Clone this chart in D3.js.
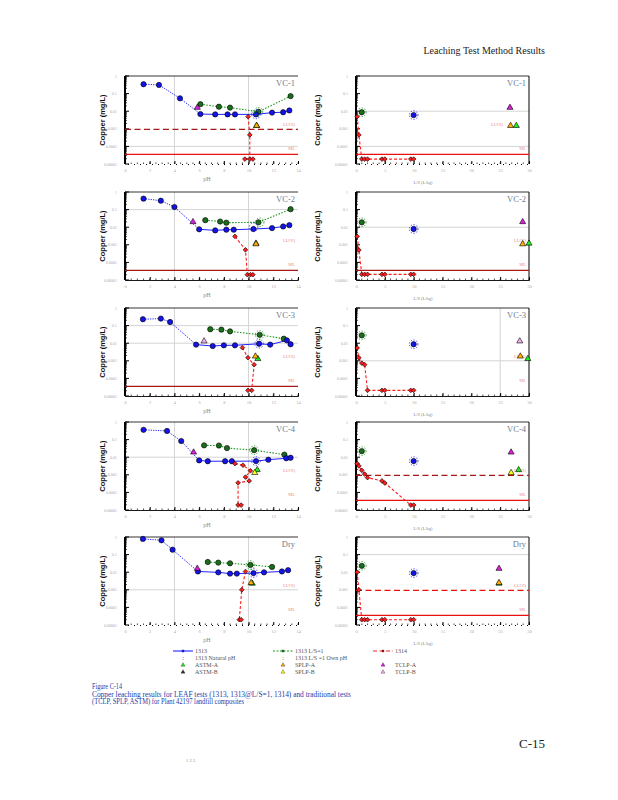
<!DOCTYPE html>
<html>
<head>
<meta charset="utf-8">
<script src="https://cdn.jsdelivr.net/npm/d3@7"></script>
<style>
  body { margin: 0; background: #fff; }
  svg { font-family: "Liberation Serif", "Times New Roman", serif; }
</style>
</head>
<body>
<div id="view"></div>
<script>
'use strict';

const samples = ['VC-1', 'VC-2', 'VC-3', 'VC-4', 'Dry'];

// 1313 (pH dependence)
const pH1313 = [
  [1.5, 2.75, 4.45, 6.1, 7.3, 8.3, 8.9, 10.6, 11.9, 12.8, 13.3],
  [1.5, 2.9, 4.0, 6.0, 7.3, 8.2, 8.8, 10.4, 11.9, 12.8, 13.3],
  [1.45, 2.9, 3.65, 5.75, 7.1, 8.0, 8.9, 10.85, 11.75, 13.1, 13.4],
  [1.5, 3.4, 4.55, 6.0, 6.7, 8.1, 8.65, 10.6, 11.6, 13.05, 13.4],
  [1.45, 2.95, 3.85, 5.9, 7.55, 8.5, 9.05, 10.4, 11.25, 12.7, 13.2]
];
const cu1313 = [
  [0.34, 0.31, 0.054, 0.0069, 0.0066, 0.0066, 0.0066, 0.0066, 0.0083, 0.0087, 0.011],
  [0.42, 0.32, 0.14, 0.0076, 0.0066, 0.0072, 0.0072, 0.0079, 0.0089, 0.011, 0.013],
  [0.23, 0.25, 0.16, 0.0083, 0.0069, 0.0076, 0.0076, 0.0093, 0.0083, 0.0145, 0.0087],
  [0.36, 0.31, 0.083, 0.0066, 0.0059, 0.0059, 0.0059, 0.006, 0.0072, 0.0087, 0.0093],
  [0.78, 0.65, 0.19, 0.011, 0.0098, 0.0083, 0.0083, 0.0089, 0.0098, 0.011, 0.013]
];
const pHNatural = [10.6, 10.4, 10.85, 10.6, 10.4];
const cuNatural = [0.0066, 0.01, 0.0093, 0.006, 0.0089];

// 1313 at L/S=1
const pHLS1 = [
  [6.1, 7.6, 8.5, 10.8, 13.4],
  [6.5, 7.7, 8.2, 10.8, 13.4],
  [6.9, 7.8, 8.5, 10.9, 12.85],
  [6.4, 7.6, 8.25, 10.45, 12.9],
  [6.7, 7.55, 8.5, 10.15, 11.9]
];
const cuLS1 = [
  [0.025, 0.018, 0.016, 0.0093, 0.072],
  [0.025, 0.021, 0.018, 0.019, 0.105],
  [0.062, 0.059, 0.047, 0.03, 0.018],
  [0.047, 0.046, 0.033, 0.025, 0.014],
  [0.038, 0.035, 0.032, 0.026, 0.02]
];
const pHOwn = [10.8, 10.9, 10.9, 10.45, 10.15];
const cuOwn = [0.0093, 0.019, 0.03, 0.025, 0.026];

// 1314 eluates against pH
const pH1314 = [
  [9.96, 10.1, 10.1, 9.7, 10.35],
  [8.9, 9.75, 9.9, 10.15, 10.35],
  [9.5, 9.95, 10.45, 10.25, 9.95],
  [8.9, 9.55, 10.15, 9.75, 10.05, 9.15, 9.15, 9.4],
  [9.75, 9.45, 9.25, 9.4]
];
const cu1314pH = [
  [0.0049, 0.00045, 0.000019, 0.000019, 0.000019],
  [0.003, 0.00052, 0.00002, 0.00002, 0.00002],
  [0.0056, 0.0015, 0.0006, 0.000021, 0.000021],
  [0.0043, 0.0035, 0.0017, 0.00074, 0.00045, 0.00035, 0.000019, 0.000019],
  [0.011, 0.001, 0.00002, 0.00002]
];

// 1314 against cumulative L/S
const ls1314 = [0.2, 0.5, 1, 1.5, 2, 4.5, 5, 9.5, 10];
const cu1314LS = [
  [0.0049, 0.00045, 0.000019, 0.000019, 0.000019, 0.000019, 0.000019, 0.000019, 0.000019],
  [0.003, 0.0005, 0.000021, 0.000021, 0.000021, 0.000021, 0.000021, 0.000021, 0.000021],
  [0.0054, 0.0015, 0.00074, 0.0006, 0.000021, 0.000021, 0.000021, 0.000021, 0.000021],
  [0.0043, 0.0032, 0.0018, 0.0011, 0.00069, 0.00045, 0.00034, 0.000019, 0.000019],
  [0.01, 0.001, 0.00002, 0.00002, 0.00002, 0.00002, 0.00002, 0.00002, 0.00002]
];
const cuAtLS1 = [0.0087, 0.019, 0.028, 0.022, 0.023];
const cuAtLS10 = [0.006, 0.0079, 0.0087, 0.006, 0.0089];

// traditional tests
const tclpKind = ['A', 'A', 'B', 'A', 'A'];
const tclpPH = [5.85, 5.5, 6.4, 5.55, 5.85];
const tclpLS = [26.7, 28.9, 28.4, 26.9, 24.8];
const tclpCu = [0.016, 0.02, 0.013, 0.019, 0.016];
const splpKind = ['A', 'A', 'A', 'B', 'A'];
const splpPH = [10.65, 10.6, 10.55, 10.5, 10.2];
const splpLS = [26.8, 28.9, 28.5, 26.9, 24.8];
const splpCu = [0.0015, 0.0011, 0.0018, 0.0013, 0.0025];
const astmPH = [10.65, 10.6, 10.75, 10.7, 10.3];
const astmLS = [27.8, 30, 29.8, 28.2, 24.8];
const astmCu = [0.0015, 0.0012, 0.0013, 0.0019, 0.0023];

const lloq = 0.00093;
const ml = 0.000035;

const yTickVals = [1, 0.1, 0.01, 0.001, 0.0001, 0.00001];
const pHTicks = [0, 2, 4, 6, 8, 10, 12, 14];
const lsTicks = [0, 5, 10, 15, 20, 25, 30];

const layout = {
  rowTop: [76, 192, 308, 422, 537],
  plotH: 88,
  left: [125, 298],
  right: [356, 529]
};

const col = {
  blue: '#1414e8', blueLine: '#2222ff',
  green: '#1a6e1a', greenLine: '#1a961a',
  red: '#ff1e1e',
  tclpA: '#e01ee0', tclpB: '#f4b0f4',
  splpA: '#ffb000', splpB: '#ffff10',
  astmA: '#22ee22', astmB: '#333333',
  lloqDark: '#a81818', mlRed: '#e81010', mlDark: '#a81818',
  grid: '#d4d4d4', tick: '#aaaaaa', guideText: '#e89090', tag: '#6d7d90'
};

// per panel guides (style only)
const panelStyle = [
  { L: { gridY: [1e-4], gridX: [4, 10], lloq: col.lloqDark, ml: col.mlRed, dotted: true },
    R: { gridY: [1e-2, 1e-4], gridX: [], ml: col.mlRed, dotted: true, lloqLabelX: 503 } },
  { L: { gridY: [0.1], gridX: [4, 10], ml: col.mlDark },
    R: { gridY: [0.01], gridX: [], ml: col.mlDark } },
  { L: { gridY: [0.1, 0.01], gridX: [4, 10], ml: col.mlDark },
    R: { gridY: [0.001], gridX: [25] } },
  { L: { gridY: [0.01], gridX: [4, 10] },
    R: { gridY: [], gridX: [], lloq: col.lloqDark, ml: col.mlRed } },
  { L: { gridY: [0.001], gridX: [4, 10], dotted: true },
    R: { gridY: [0.1], gridX: [], lloq: col.mlRed, ml: col.mlRed, dotted: true } }
];

const svg = d3.select('#view').append('svg')
  .attr('width', 618)
  .attr('height', 800);

const sym = (type, size) => d3.symbol().type(type).size(size)();

function yFmt(v) {
  return v >= 1 ? '1' : String(+v.toFixed(6));
}

function drawFrame(g, x, y, st, isLeft, xTicks, xTitle) {
  const [x0, x1] = x.range();
  const [yb, yt] = y.range();

  st.gridY.forEach(v => {
    g.append('line').attr('x1', x0).attr('x2', x1).attr('y1', y(v)).attr('y2', y(v))
      .attr('stroke', col.grid).attr('stroke-width', 1);
  });
  st.gridX.forEach(v => {
    g.append('line').attr('x1', x(v)).attr('x2', x(v)).attr('y1', yt).attr('y2', yb)
      .attr('stroke', col.grid).attr('stroke-width', 1);
  });

  // top / right borders
  g.append('line').attr('x1', x0).attr('x2', x1).attr('y1', yt).attr('y2', yt)
    .attr('stroke', '#000').attr('stroke-width', 0.8);
  if (!isLeft) {
    g.append('line').attr('x1', x1).attr('x2', x1).attr('y1', yt).attr('y2', yb)
      .attr('stroke', '#000').attr('stroke-width', 1);
  }

  // bottom axis
  const xAxis = g.append('g')
    .attr('transform', `translate(0,${yb})`)
    .call(d3.axisBottom(x).tickValues(xTicks).tickSize(-3).tickPadding(5).tickFormat(d3.format('d')));
  xAxis.select('.domain').attr('stroke', '#000').attr('stroke-width', st.dotted ? 1.2 : 0.9)
    .attr('stroke-dasharray', st.dotted ? '1,5' : null);
  xAxis.selectAll('.tick line').attr('stroke', '#000');
  xAxis.selectAll('.tick text').attr('fill', col.tick).attr('font-size', 4.5)
    .style('font-family', '"Liberation Serif", serif');

  const minorX = isLeft ? d3.range(0, 14.01, 0.5) : d3.range(0, 30.01, 1);
  g.selectAll(null).data(minorX).enter().append('line')
    .attr('x1', d => x(d)).attr('x2', d => x(d))
    .attr('y1', yb).attr('y2', yb - 1.5)
    .attr('stroke', '#000').attr('stroke-width', 0.7);

  g.append('text')
    .attr('x', isLeft ? 207 : 423)
    .attr('y', yb + (isLeft ? 17 : 20))
    .attr('text-anchor', 'middle')
    .attr('fill', '#888')
    .attr('font-size', isLeft ? 6 : 4.5)
    .text(xTitle);

  // left log axis
  g.append('line').attr('x1', x0).attr('x2', x0).attr('y1', yt).attr('y2', yb)
    .attr('stroke', '#000').attr('stroke-width', 2);
  const minorY = y.ticks().filter(v => !yTickVals.some(t => Math.abs(t - v) / t < 1e-6));
  g.selectAll(null).data(minorY).enter().append('line')
    .attr('x1', x0).attr('x2', x0 + 2)
    .attr('y1', d => y(d)).attr('y2', d => y(d))
    .attr('stroke', '#000').attr('stroke-width', 0.7);
  g.selectAll(null).data(yTickVals).enter().append('line')
    .attr('x1', x0).attr('x2', x0 + 4)
    .attr('y1', d => y(d)).attr('y2', d => y(d))
    .attr('stroke', '#000').attr('stroke-width', 1);
  g.selectAll(null).data(yTickVals).enter().append('text')
    .attr('x', x0 - 8)
    .attr('y', d => y(d) + 1.5)
    .attr('text-anchor', 'end')
    .attr('fill', col.tick)
    .attr('font-size', 4)
    .text(yFmt);

  const cy = (yt + yb) / 2;
  g.append('text')
    .attr('transform', `translate(${isLeft ? 105 : 320},${cy}) rotate(-90)`)
    .attr('text-anchor', 'middle')
    .attr('font-family', '"Liberation Sans", Arial, sans-serif')
    .attr('font-weight', 'bold')
    .attr('font-size', 7.5)
    .attr('fill', '#111')
    .text('Copper (mg/L)');

  // guide lines
  if (st.lloq) {
    g.append('line').attr('x1', x0).attr('x2', x1).attr('y1', y(lloq)).attr('y2', y(lloq))
      .attr('stroke', st.lloq).attr('stroke-width', 1.2).attr('stroke-dasharray', '6,3.5');
  }
  if (st.ml) {
    g.append('line').attr('x1', x0).attr('x2', x1).attr('y1', y(ml)).attr('y2', y(ml))
      .attr('stroke', st.ml).attr('stroke-width', 1.2);
  }
  g.append('text')
    .attr('x', st.lloqLabelX || x1 - 3)
    .attr('y', y(lloq * 1.55))
    .attr('text-anchor', 'end')
    .attr('fill', col.guideText)
    .attr('font-size', 4.5)
    .text('LLOQ');
  g.append('text')
    .attr('x', x1 - 3)
    .attr('y', y(ml * 1.8))
    .attr('text-anchor', 'end')
    .attr('fill', col.guideText)
    .attr('font-size', 4.5)
    .text('ML');
}

function drawTag(g, x, y, name) {
  g.append('text')
    .attr('x', x.range()[1] - 3)
    .attr('y', y.range()[1] + 10)
    .attr('text-anchor', 'end')
    .attr('fill', col.tag)
    .attr('font-size', 8.5)
    .text(name);
}

function pathLine(g, pts, x, y, color, dash, w) {
  g.append('path')
    .attr('d', d3.line().x(d => x(d[0])).y(d => y(d[1]))(pts))
    .attr('fill', 'none')
    .attr('stroke', color)
    .attr('stroke-width', w || 1)
    .attr('stroke-dasharray', dash);
}

function marks(g, pts, x, y, type, size, fill) {
  g.selectAll(null).data(pts).enter().append('path')
    .attr('d', sym(type, size))
    .attr('transform', d => `translate(${x(d[0])},${y(d[1])})`)
    .attr('fill', fill)
    .attr('stroke', '#000')
    .attr('stroke-width', 0.6);
}

function ring(g, px, py, color) {
  g.append('circle')
    .attr('cx', px).attr('cy', py).attr('r', 4.3)
    .attr('fill', 'none')
    .attr('stroke', color)
    .attr('stroke-width', 0.9)
    .attr('stroke-dasharray', '1.2,1.6');
}

function triangles(g, i, x, y, useLS) {
  const astm = [[useLS ? astmLS[i] : astmPH[i], astmCu[i]]];
  const splp = [[useLS ? splpLS[i] : splpPH[i], splpCu[i]]];
  const tclp = [[useLS ? tclpLS[i] : tclpPH[i], tclpCu[i]]];
  marks(g, astm, x, y, d3.symbolTriangle, 16, col.astmA);
  marks(g, splp, x, y, d3.symbolTriangle, 16, splpKind[i] === 'A' ? col.splpA : col.splpB);
  marks(g, tclp, x, y, d3.symbolTriangle, 16, tclpKind[i] === 'A' ? col.tclpA : col.tclpB);
}

const diamond = d3.symbolDiamond2 || d3.symbolDiamond;

samples.forEach((name, i) => {
  const top = layout.rowTop[i];
  const y = d3.scaleLog().domain([0.00001, 1]).range([top + layout.plotH, top]);

  // pH panel
  const xL = d3.scaleLinear().domain([0, 14]).range(layout.left);
  const gL = svg.append('g');
  drawFrame(gL, xL, y, panelStyle[i].L, true, pHTicks, 'pH');

  const blue = pH1313[i].map((p, k) => [p, cu1313[i][k]]);
  const green = pHLS1[i].map((p, k) => [p, cuLS1[i][k]]);
  const red = pH1314[i].map((p, k) => [p, cu1314pH[i][k]]);

  pathLine(gL, blue.slice(0, 4), xL, y, col.blueLine, '1.2,1.2', 1);
  pathLine(gL, blue.slice(3), xL, y, col.blueLine, null, 1);
  pathLine(gL, green, xL, y, col.greenLine, '1.5,1.5', 1.1);
  pathLine(gL, red, xL, y, col.red, '3,2', 1.1);

  marks(gL, green, xL, y, d3.symbolCircle, 22, col.green);
  marks(gL, blue, xL, y, d3.symbolCircle, 22, col.blue);
  marks(gL, red, xL, y, diamond, 14, col.red);
  triangles(gL, i, xL, y, false);
  ring(gL, xL(pHNatural[i]), y(cuNatural[i]), col.blueLine);
  ring(gL, xL(pHOwn[i]), y(cuOwn[i]), col.greenLine);
  drawTag(gL, xL, y, name);

  // L/S panel
  const xR = d3.scaleLinear().domain([0, 30]).range(layout.right);
  const gR = svg.append('g');
  drawFrame(gR, xR, y, panelStyle[i].R, false, lsTicks, 'L/S (L/kg)');

  const redLS = ls1314.map((l, k) => [l, cu1314LS[i][k]]);
  pathLine(gR, redLS, xR, y, col.red, '3,2', 1.1);
  marks(gR, redLS, xR, y, diamond, 14, col.red);
  marks(gR, [[1, cuAtLS1[i]]], xR, y, d3.symbolCircle, 22, col.green);
  ring(gR, xR(1), y(cuAtLS1[i]), col.greenLine);
  marks(gR, [[10, cuAtLS10[i]]], xR, y, d3.symbolCircle, 22, col.blue);
  ring(gR, xR(10), y(cuAtLS10[i]), col.blueLine);
  triangles(gR, i, xR, y, true);
  drawTag(gR, xR, y, name);
});

// legend
const legendRows = [651, 658, 665, 672];
const legendCols = [
  { x: 183, items: ['1313', '1313 Natural pH', 'ASTM-A', 'ASTM-B'] },
  { x: 283, items: ['1313  L/S=1', '1313  L/S =1  Own pH', 'SPLP-A', 'SPLP-B'] },
  { x: 383, items: ['1314', '', 'TCLP-A', 'TCLP-B'] }
];
const gLeg = svg.append('g');

legendCols.forEach(c => {
  c.items.forEach((t, ri) => {
    if (!t) return;
    gLeg.append('text')
      .attr('x', c.x + 12)
      .attr('y', legendRows[ri] + 2)
      .attr('fill', '#555')
      .attr('font-size', 6)
      .text(t);
  });
});

const lineKeys = [
  { x: 183, color: col.blueLine, dash: null, type: d3.symbolSquare, fill: col.blue },
  { x: 283, color: col.greenLine, dash: '2,1.5', type: d3.symbolSquare, fill: col.green },
  { x: 383, color: col.red, dash: '4,2.5', type: diamond, fill: '#600' }
];
lineKeys.forEach(k => {
  gLeg.append('line')
    .attr('x1', k.x - 10).attr('x2', k.x + 10)
    .attr('y1', legendRows[0]).attr('y2', legendRows[0])
    .attr('stroke', k.color).attr('stroke-width', 1.1).attr('stroke-dasharray', k.dash);
  gLeg.append('path')
    .attr('d', sym(k.type, 6))
    .attr('transform', `translate(${k.x},${legendRows[0]})`)
    .attr('fill', k.fill);
});

gLeg.append('text').attr('x', 183).attr('y', legendRows[1] + 2).attr('text-anchor', 'middle')
  .attr('fill', col.blueLine).attr('font-size', 6).text(':');
gLeg.append('text').attr('x', 283).attr('y', legendRows[1] + 2).attr('text-anchor', 'middle')
  .attr('fill', col.green).attr('font-size', 6).text(':');

const triKeys = [
  [183, 2, col.astmA], [183, 3, col.astmB],
  [283, 2, col.splpA], [283, 3, col.splpB],
  [383, 2, col.tclpA], [383, 3, col.tclpB]
];
triKeys.forEach(([kx, r, f]) => {
  gLeg.append('path')
    .attr('d', sym(d3.symbolTriangle, 7))
    .attr('transform', `translate(${kx},${legendRows[r]})`)
    .attr('fill', f)
    .attr('stroke', '#000')
    .attr('stroke-width', 0.3);
});

// page text
svg.append('text')
  .attr('x', 545).attr('y', 54)
  .attr('text-anchor', 'end')
  .attr('font-size', 10)
  .attr('fill', '#222')
  .text('Leaching Test Method Results');

const caption = [
  ['Figure C-14', 689, 30],
  ['Copper leaching results for LEAF tests (1313, 1313@L/S=1, 1314) and traditional tests', 696.5, 259],
  ['(TCLP, SPLP, ASTM) for Plant 42197 landfill composites', 704, 152]
];
caption.forEach(([t, yy, w]) => {
  svg.append('text')
    .attr('x', 92).attr('y', yy)
    .attr('font-size', 7.2)
    .attr('fill', '#1c3aa8')
    .attr('textLength', w)
    .attr('lengthAdjust', 'spacingAndGlyphs')
    .text(t);
});

svg.append('text')
  .attr('x', 545).attr('y', 748)
  .attr('text-anchor', 'end')
  .attr('font-size', 13)
  .attr('fill', '#222')
  .text('C-15');

svg.append('text')
  .attr('x', 186).attr('y', 762)
  .attr('font-size', 4.5)
  .attr('fill', '#888')
  .text('1    2    3');
</script>
</body>
</html>
